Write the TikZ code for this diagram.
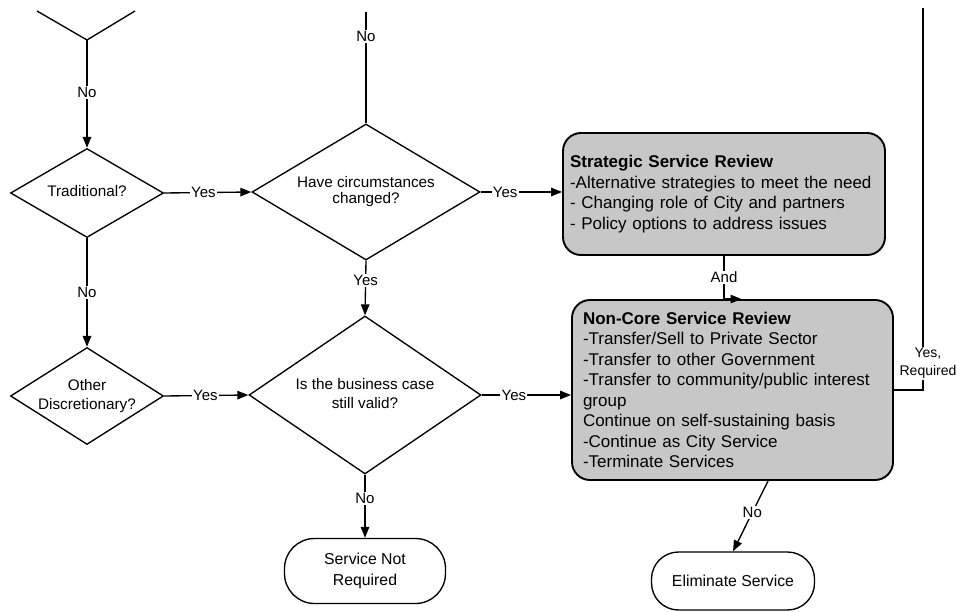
\documentclass[tikz,border=0pt]{standalone}
\usepackage{fontspec}
\setmainfont{Liberation Sans}
\usetikzlibrary{shapes.geometric,arrows.meta,calc}
\newcommand\dtxt[1]{\makebox[0pt]{\begin{tabular}{@{}c@{}}#1\end{tabular}}}
\begin{document}
\begin{tikzpicture}[x=1pt,y=-1pt, line width=1.35pt,
  dia/.style={draw, shape=diamond, inner sep=0pt, font=\fontsize{15.3}{19.5}\selectfont},
  rbox/.style={draw, line width=1.9pt, fill=black!22, rounded corners=18pt, align=left,
     font=\fontsize{17}{20.5}\selectfont, inner ysep=0pt},
  term/.style={draw, align=center, inner sep=0pt, font=\fontsize{15.8}{20.5}\selectfont},
  lab/.style={fill=white, inner sep=1.2pt, font=\fontsize{15}{18}\selectfont},
  arr/.style={-{Triangle[length=11pt,width=8.5pt]}}]
\useasboundingbox (0,0) rectangle (957,612);

% decision nodes
\node[dia, minimum width=153, minimum height=89] (trad) at (87,193) {\dtxt{Traditional?}};
\node[dia, minimum width=228, minimum height=136, font=\fontsize{15.3}{14.5}\selectfont] (hc) at (366,192) {\dtxt{Have circumstances\\changed?}};
\node[dia, minimum width=153, minimum height=97] (oth) at (87,396) {\dtxt{Other\\Discretionary?}};
\node[dia, minimum width=232, minimum height=158] (bus) at (365,395) {\dtxt{Is the business case\\still valid?}};

% review boxes
\node[rbox, inner xsep=7pt, text width=308pt, minimum height=122] (ssr) at (724,194)
  {\textbf{Strategic Service Review}\\
   -Alternative strategies to meet the need\\
   - Changing role of City and partners\\
   - Policy options to address issues};
\node[rbox, inner xsep=11pt, text width=299pt, minimum height=180] (nc) at (732.5,390)
  {\textbf{Non-Core Service Review}\\
   -Transfer/Sell to Private Sector\\
   -Transfer to other Government\\
   -Transfer to community/public interest\\
   group\\
   Continue on self-sustaining basis\\
   -Continue as City Service\\
   -Terminate Services};

% terminal nodes
\node[term, minimum width=161, minimum height=65, rounded corners=30pt] (snr) at (365,571) {Service Not\\Required};
\node[term, minimum width=163, minimum height=58, rounded corners=27pt] (elim) at (733,581) {Eliminate Service};

% free ends
\coordinate (ya) at (37,11);
\coordinate (yb) at (135,11);
\coordinate (yj) at (87,40);
\coordinate (hctop) at (366,12);
\coordinate (ncb) at (768,481);
\coordinate (rtop) at (923,8);

% connectors
\draw (ya) -- (yj) -- (yb);
\draw[arr] (yj) -- node[lab, pos=0.49] {No} (trad.north);
\draw[arr] (trad.south) -- node[lab] {No} (oth.north);
\draw[arr] (trad.east) -- node[lab, pos=0.45] {Yes} (hc.west);
\draw (hctop) -- node[lab, pos=0.22] {No} (hc.north);
\draw[arr] (hc.east) -- node[lab, pos=0.3] {Yes} (hc.east -| ssr.west);
\draw[arr] (hc.south) -- node[lab, pos=0.36] {Yes} (bus.north);
\draw[arr] (oth.east) -- node[lab, pos=0.49] {Yes} (bus.west);
\draw[arr] (bus.east) -- node[lab, pos=0.36] {Yes} (bus.east -| nc.west);
\draw[arr] (bus.south) -- node[lab, pos=0.375] {No} (snr.north);
\draw[arr] (ssr.south) |- node[lab, pos=0.25] {And} ([xshift=9pt]nc.north);
\draw[arr] (ncb) -- node[lab, pos=0.45] {No} (elim.north);
\draw (nc.east) -| node[lab, pos=0.535, xshift=5pt, align=center, font=\fontsize{14}{18}\selectfont] {Yes,\\Required} (rtop);
\end{tikzpicture}
\end{document}
